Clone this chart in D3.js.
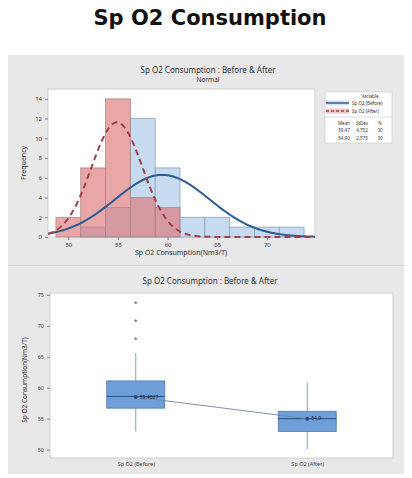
<!DOCTYPE html>
<html>
<head>
<meta charset="utf-8">
<script src="https://cdn.jsdelivr.net/npm/d3@7"></script>
<style>
  body { margin: 0; background: #fff; }
  svg text { font-family: "Noto Sans", "Open Sans", sans-serif; fill: #333; }
</style>
</head>
<body>
<svg id="chart" width="412" height="478"></svg>
<script>
// histogram bins (centers) and counts
const binCenters = [50, 52.5, 55, 57.5, 60, 62.5, 65, 67.5, 70, 72.5];
const binWidth = 2.5;
const countsBefore = [0, 1, 3, 12, 7, 2, 2, 1, 1, 1];
const countsAfter  = [2, 7, 14, 4, 3, 0, 0, 0, 0, 0];

// fitted normal stats (legend)
const seriesNames = ["Sp O2 (Before)", "Sp O2 (After)"];
const means = [59.47, 54.90];
const stdevs = [4.752, 2.575];
const ns = [30, 30];

const histXTicks = [50, 55, 60, 65, 70];
const histYTicks = [0, 2, 4, 6, 8, 10, 12, 14];

// boxplot stats
const boxCats = ["Sp O2 (Before)", "Sp O2 (After)"];
const boxQ1 = [56.7, 52.95];
const boxMedian = [58.6, 55.0];
const boxQ3 = [61.1, 56.2];
const whiskLow = [52.95, 50.1];
const whiskHigh = [65.6, 60.8];
const boxMean = [58.5, 55.0];
const meanLabels = ["59.4667", "54.9"];
const outliers = [[67.85, 70.7, 73.7], []];
const boxYTicks = [50, 55, 60, 65, 70, 75];

const svg = d3.select("#chart");

// main title
svg.append("text")
  .attr("x", 210).attr("y", 25)
  .attr("text-anchor", "middle")
  .style("font-family", "DejaVu Sans")
  .style("font-weight", "bold")
  .style("font-size", "21px")
  .style("fill", "#111")
  .text("Sp O2 Consumption");

// grey panels
svg.append("rect").attr("x", 8).attr("y", 55).attr("width", 396).attr("height", 210).attr("fill", "#e8e8e8");
svg.append("rect").attr("x", 8).attr("y", 266).attr("width", 396).attr("height", 208).attr("fill", "#e8e8e8");
svg.append("line").attr("x1", 8).attr("x2", 404).attr("y1", 265.5).attr("y2", 265.5).attr("stroke", "#d6d6d6");

// ---------- histogram ----------
const hp = {left: 48, right: 315, top: 89, bottom: 237};
const x = d3.scaleLinear().domain([47.95, 74.85]).range([hp.left, hp.right]);
const y = d3.scaleLinear().domain([0, 15]).range([hp.bottom, hp.top]);

svg.append("rect")
  .attr("x", hp.left).attr("y", hp.top)
  .attr("width", hp.right - hp.left).attr("height", hp.bottom - hp.top)
  .attr("fill", "#fff").attr("stroke", "#cfcfcf");

svg.append("text").attr("x", 208).attr("y", 73).attr("text-anchor", "middle")
  .style("font-size", "8px").text("Sp O2 Consumption : Before & After");
svg.append("text").attr("x", 208).attr("y", 82).attr("text-anchor", "middle")
  .style("font-size", "6.5px").text("Normal");

const hg = svg.append("g");

// before bars (blue)
hg.selectAll(".barB")
  .data(binCenters.map((c, i) => ({c: c, n: countsBefore[i]})).filter(d => d.n > 0))
  .enter().append("rect")
  .attr("x", d => x(d.c - binWidth / 2))
  .attr("y", d => y(d.n))
  .attr("width", d => x(d.c + binWidth / 2) - x(d.c - binWidth / 2))
  .attr("height", d => y(0) - y(d.n))
  .attr("fill", "#c6daf0")
  .attr("stroke", "#8fa3bd")
  .attr("stroke-width", 0.8);

// after bars (red, see-through)
hg.selectAll(".barA")
  .data(binCenters.map((c, i) => ({c: c, n: countsAfter[i]})).filter(d => d.n > 0))
  .enter().append("rect")
  .attr("x", d => x(d.c - binWidth / 2))
  .attr("y", d => y(d.n))
  .attr("width", d => x(d.c + binWidth / 2) - x(d.c - binWidth / 2))
  .attr("height", d => y(0) - y(d.n))
  .attr("fill", "rgba(220,118,118,0.65)")
  .attr("stroke", "#a98a90")
  .attr("stroke-width", 0.8);

// fitted normal curves
function normalLine(i) {
  const pts = d3.range(x.domain()[0], x.domain()[1] + 0.01, 0.1).map(v => {
    const z = (v - means[i]) / stdevs[i];
    return [v, ns[i] * binWidth * Math.exp(-0.5 * z * z) / (stdevs[i] * Math.sqrt(2 * Math.PI))];
  });
  return d3.line().x(d => x(d[0])).y(d => y(d[1]))(pts);
}
hg.append("path").attr("d", normalLine(0)).attr("fill", "none")
  .attr("stroke", "#2b5c97").attr("stroke-width", 2);
hg.append("path").attr("d", normalLine(1)).attr("fill", "none")
  .attr("stroke", "#a4404a").attr("stroke-width", 2).attr("stroke-dasharray", "6,4");

// axes
const xAxis = svg.append("g").attr("transform", "translate(0," + hp.bottom + ")")
  .call(d3.axisBottom(x).tickValues(histXTicks).tickSize(3).tickSizeOuter(0));
const yAxis = svg.append("g").attr("transform", "translate(" + hp.left + ",0)")
  .call(d3.axisLeft(y).tickValues(histYTicks).tickSize(3).tickSizeOuter(0));
[xAxis, yAxis].forEach(a => {
  a.select(".domain").remove();
  a.selectAll("line").attr("stroke", "#888");
  a.selectAll("text").style("font-size", "6px").style("fill", "#444");
});

svg.append("text").attr("x", 181).attr("y", 255).attr("text-anchor", "middle")
  .style("font-size", "7px").text("Sp O2 Consumption(Nm3/T)");
svg.append("text").attr("transform", "translate(26,163) rotate(-90)").attr("text-anchor", "middle")
  .style("font-size", "7px").text("Frequency");

// legend
const lg = svg.append("g");
lg.append("rect").attr("x", 325).attr("y", 92).attr("width", 67).attr("height", 51)
  .attr("fill", "#fff").attr("stroke", "#cfcfcf").attr("stroke-width", 0.7);
lg.append("text").attr("x", 370).attr("y", 97.5).attr("text-anchor", "middle")
  .style("font-size", "4.5px").text("Variable");
seriesNames.forEach((s, i) => {
  const yy = 103 + i * 8;
  lg.append("rect").attr("x", 326).attr("y", yy - 2.5).attr("width", 23).attr("height", 5)
    .attr("fill", i ? "rgba(224,130,130,0.45)" : "rgba(150,190,230,0.45)");
  lg.append("line").attr("x1", 326).attr("x2", 349).attr("y1", yy).attr("y2", yy)
    .attr("stroke", i ? "#a4404a" : "#2b5c97").attr("stroke-width", 1.5)
    .attr("stroke-dasharray", i ? "3,2" : null);
  lg.append("text").attr("x", 352).attr("y", yy + 1.8).style("font-size", "4.5px").text(s);
});
lg.append("line").attr("x1", 325).attr("x2", 392).attr("y1", 117).attr("y2", 117).attr("stroke", "#cfcfcf").attr("stroke-width", 0.7);
const cols = [344, 362, 380];
["Mean", "StDev", "N"].forEach((h, j) => {
  lg.append("text").attr("x", cols[j]).attr("y", 124.5).attr("text-anchor", "middle").style("font-size", "4.5px").text(h);
});
seriesNames.forEach((s, i) => {
  const vals = [means[i].toFixed(2), stdevs[i].toFixed(3), ns[i]];
  vals.forEach((v, j) => {
    lg.append("text").attr("x", cols[j]).attr("y", 132 + i * 7.5).attr("text-anchor", "middle").style("font-size", "4.5px").text(v);
  });
});

// ---------- boxplot ----------
const bp = {left: 50, right: 393, top: 293, bottom: 458};
const bx = d3.scalePoint().domain(boxCats).range([bp.left, bp.right]).padding(0.5);
const by = d3.scaleLinear().domain([48.65, 75.3]).range([bp.bottom, bp.top]);
const boxW = 58;

svg.append("rect")
  .attr("x", bp.left).attr("y", bp.top)
  .attr("width", bp.right - bp.left).attr("height", bp.bottom - bp.top)
  .attr("fill", "#fff").attr("stroke", "#cfcfcf");

svg.append("text").attr("x", 210).attr("y", 284).attr("text-anchor", "middle")
  .style("font-size", "8px").text("Sp O2 Consumption : Before & After");

const bg = svg.append("g");
boxCats.forEach((c, i) => {
  const cx = bx(c);
  bg.append("line").attr("x1", cx).attr("x2", cx).attr("y1", by(whiskLow[i])).attr("y2", by(whiskHigh[i]))
    .attr("stroke", "#8c9fb7").attr("stroke-width", 1);
  bg.append("rect").attr("x", cx - boxW / 2).attr("y", by(boxQ3[i]))
    .attr("width", boxW).attr("height", by(boxQ1[i]) - by(boxQ3[i]))
    .attr("fill", "#6f9fd8").attr("stroke", "#4f79ad").attr("stroke-width", 0.8);
  bg.append("line").attr("x1", cx - boxW / 2).attr("x2", cx + boxW / 2)
    .attr("y1", by(boxMedian[i])).attr("y2", by(boxMedian[i]))
    .attr("stroke", "#2e4f7c").attr("stroke-width", 1);
  outliers[i].forEach(o => {
    bg.append("text").attr("x", cx).attr("y", by(o) + 3).attr("text-anchor", "middle")
      .style("font-size", "7px").style("fill", "#555").text("*");
  });
});

// mean connect line
bg.append("path")
  .attr("d", d3.line().x((d, i) => bx(boxCats[i])).y(d => by(d))(boxMean))
  .attr("fill", "none").attr("stroke", "#7385a0").attr("stroke-width", 0.9);
boxCats.forEach((c, i) => {
  const cx = bx(c), cy = by(boxMean[i]);
  bg.append("circle").attr("cx", cx).attr("cy", cy).attr("r", 2).attr("fill", "#2d4a78");
  bg.append("text").attr("x", cx + 4).attr("y", cy + 1.8).style("font-size", "5px").style("fill", "#223").text(meanLabels[i]);
});

const bxAxis = svg.append("g").attr("transform", "translate(0," + bp.bottom + ")")
  .call(d3.axisBottom(bx).tickSize(0));
const byAxis = svg.append("g").attr("transform", "translate(" + bp.left + ",0)")
  .call(d3.axisLeft(by).tickValues(boxYTicks).tickSize(3).tickSizeOuter(0));
[bxAxis, byAxis].forEach(a => {
  a.select(".domain").remove();
  a.selectAll("line").attr("stroke", "#888");
  a.selectAll("text").style("font-size", "5.5px").style("fill", "#444");
});
bxAxis.selectAll("text").attr("dy", "0.9em");

svg.append("text").attr("transform", "translate(27,380) rotate(-90)").attr("text-anchor", "middle")
  .style("font-size", "6.5px").text("Sp O2 Consumption(Nm3/T)");
</script>
</body>
</html>
